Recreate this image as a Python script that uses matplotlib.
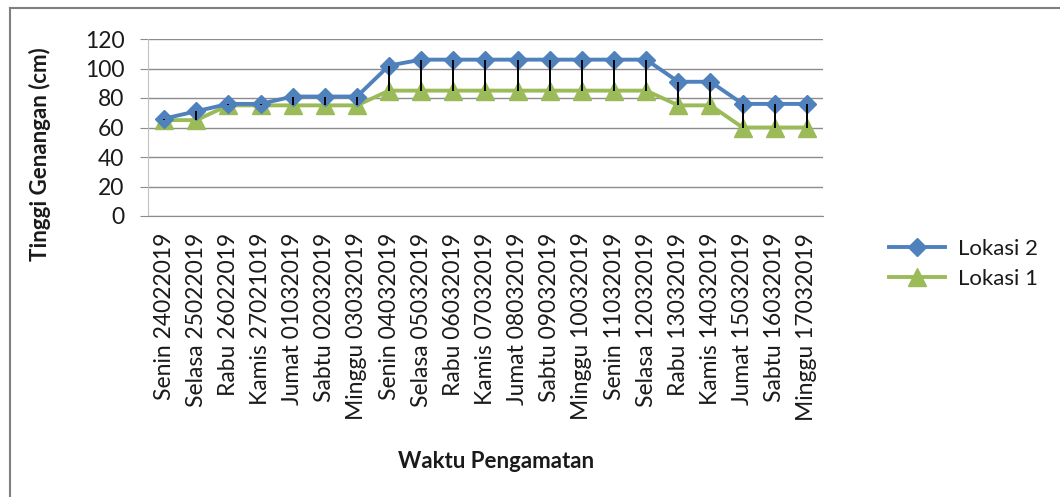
import matplotlib
matplotlib.use("Agg")
import matplotlib.pyplot as plt
from matplotlib.lines import Line2D

# data
tanggal = ['Senin 24022019', 'Selasa 25022019', 'Rabu 26022019', 'Kamis 27021019',
           'Jumat 01032019', 'Sabtu 02032019', 'Minggu 03032019', 'Senin 04032019',
           'Selasa 05032019', 'Rabu 06032019', 'Kamis 07032019', 'Jumat 08032019',
           'Sabtu 09032019', 'Minggu 10032019', 'Senin 11032019', 'Selasa 12032019',
           'Rabu 13032019', 'Kamis 14032019', 'Jumat 15032019', 'Sabtu 16032019',
           'Minggu 17032019']
lokasi2 = [66, 71, 76, 76, 81, 81, 81, 102, 106, 106, 106, 106, 106, 106, 106, 106,
           91, 91, 76, 76, 76]
lokasi1 = [65, 65, 75, 75, 75, 75, 75, 85, 85, 85, 85, 85, 85, 85, 85, 85,
           75, 75, 60, 60, 60]
yticks = [0, 20, 40, 60, 80, 100, 120]

biru = '#4F81BD'
hijau = '#9BBB59'
abu = '#8C8C8C'
teks = '#1A1A1A'
fs = 16.5

plt.rcParams['font.family'] = ['Lato', 'DejaVu Sans']

fig = plt.figure(figsize=(10.6, 4.97), dpi=100)
ax = fig.add_axes([148/1060, 1-216/497, 675/1060, 177/497])

x = list(range(len(tanggal)))
ax.plot(x, lokasi1, color=hijau, lw=2.8, marker='^', ms=12.5, mec=hijau, zorder=3)
ax.plot(x, lokasi2, color=biru, lw=2.8, marker='D', ms=9.5, mec=biru, zorder=4)
# high-low lines
ax.vlines(x, lokasi1, lokasi2, color='black', lw=1.4, zorder=5)

ax.set_xlim(-0.5, len(tanggal) - 0.5)
ax.set_ylim(0, 120)
ax.set_yticks(yticks)
ax.set_xticks(x)
ax.set_xticklabels(tanggal, rotation=90, va='top', ha='center')
ax.tick_params(axis='x', length=0, pad=12, labelsize=fs, colors=teks)
ax.tick_params(axis='y', length=6, pad=11, labelsize=fs, color=abu, labelcolor=teks)
ax.grid(axis='y', color=abu, lw=1)
ax.set_axisbelow(True)
for s in ['top', 'right']:
    ax.spines[s].set_visible(False)
ax.spines['left'].set_color('#C0C0C0')
ax.spines['bottom'].set_color(abu)

fig.text(40/1060, 1-154/497, 'Tinggi Genangan (cm)', rotation=90, ha='center', va='center',
         fontsize=16, fontweight='bold', color=teks)
fig.text(496/1060, 1-462/497, 'Waktu Pengamatan', ha='center', va='center',
         fontsize=16, fontweight='bold', color=teks)

handles = [Line2D([], [], color=biru, lw=2.8, marker='D', ms=9.5),
           Line2D([], [], color=hijau, lw=2.8, marker='^', ms=12.5)]
fig.legend(handles, ['Lokasi 2', 'Lokasi 1'], loc='upper left',
           bbox_to_anchor=(889/1060, 1-239/497), frameon=False, fontsize=16,
           handlelength=2.5, handletextpad=0.6, labelspacing=0.45,
           borderpad=0, borderaxespad=0, labelcolor=teks)

# chart border (only top and left visible in the crop)
fig.add_artist(Line2D([10/1060, 1], [1-8/497, 1-8/497], color='#7F7F7F', lw=1.5))
fig.add_artist(Line2D([10/1060, 10/1060], [0, 1-8/497], color='#7F7F7F', lw=1.5))

fig.savefig('out.png', dpi=100)
